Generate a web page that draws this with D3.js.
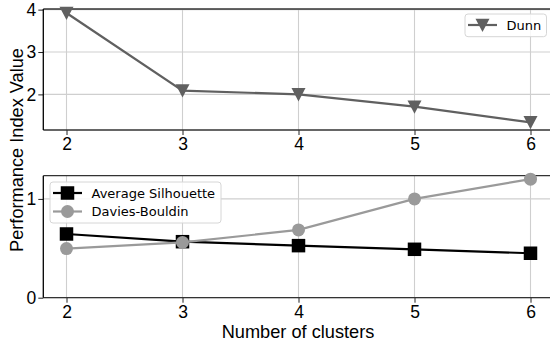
<!DOCTYPE html>
<html>
<head>
<meta charset="utf-8">
<script src="https://cdn.jsdelivr.net/npm/d3@7"></script>
<style>
  html, body { margin: 0; padding: 0; background: #fff; }
  svg { display: block; }
</style>
</head>
<body>
<svg id="chart" width="550" height="349"></svg>
<script>
// Cluster counts and performance indices
const clusters = [2, 3, 4, 5, 6];
const dunn = [3.92, 2.09, 2.0, 1.71, 1.34];
const silhouette = [0.645, 0.567, 0.527, 0.49, 0.45];
const daviesBouldin = [0.497, 0.56, 0.686, 1.0, 1.2];
const topTicks = [2, 3, 4];
const bottomTicks = [0, 1];

const svg = d3.select("#chart");
const tickFont = "'Liberation Sans', Arial, sans-serif";
const legendFont = "'DejaVu Sans', sans-serif";

const x = d3.scaleLinear().domain([1.8, 6.2]).range([43.3, 553.7]);
const yTop = d3.scaleLinear().domain([1.16, 4.015]).range([130, 9]);
const yBot = d3.scaleLinear().domain([0, 1.235]).range([297.7, 175.7]);

function panel(y, yTicks) {
  const g = svg.append("g");
  const [y0, y1] = y.range();
  // grid
  g.selectAll(".gx").data(clusters).join("line")
    .attr("x1", d => x(d)).attr("x2", d => x(d))
    .attr("y1", y0).attr("y2", y1)
    .attr("stroke", "#cfcfcf").attr("stroke-width", 1.1);
  g.selectAll(".gy").data(yTicks).join("line")
    .attr("x1", x.range()[0]).attr("x2", 550)
    .attr("y1", d => y(d)).attr("y2", d => y(d))
    .attr("stroke", "#cfcfcf").attr("stroke-width", 1.1);
  // axes
  const ax = g.append("g").attr("transform", `translate(0,${y0})`)
    .call(d3.axisBottom(x).tickValues(clusters).tickFormat(d3.format("d")).tickSize(5).tickPadding(3));
  const ay = g.append("g").attr("transform", `translate(${x.range()[0]},0)`)
    .call(d3.axisLeft(y).tickValues(yTicks).tickFormat(d3.format("d")).tickSize(5).tickPadding(2));
  [ax, ay].forEach(a => {
    a.selectAll("text").attr("font-family", tickFont).attr("font-size", 17.5).attr("fill", "#000");
    a.selectAll("line").attr("stroke", "#222");
    a.select(".domain").remove();
  });
  // spines
  g.append("line").attr("x1", x.range()[0]).attr("x2", 550).attr("y1", y0).attr("y2", y0)
    .attr("stroke", "#333").attr("stroke-width", 1.3);
  g.append("line").attr("x1", x.range()[0]).attr("x2", 550).attr("y1", y1).attr("y2", y1)
    .attr("stroke", "#333").attr("stroke-width", 1.3);
  g.append("line").attr("x1", x.range()[0]).attr("x2", x.range()[0]).attr("y1", y0).attr("y2", y1)
    .attr("stroke", "#000").attr("stroke-width", 1.3);
  return g;
}

function series(g, y, values, color, marker, size) {
  const line = d3.line().x((d, i) => x(clusters[i])).y(d => y(d));
  g.append("path").datum(values).attr("d", line)
    .attr("fill", "none").attr("stroke", color).attr("stroke-width", 2.2);
  g.selectAll(null).data(values).join("path")
    .attr("transform", (d, i) => `translate(${x(clusters[i])},${y(d)})`)
    .attr("d", marker(size)).attr("fill", color);
}

const tri = s => `M${-s/2},${-s*0.45}L${s/2},${-s*0.45}L0,${s*0.5}Z`;
const sq = s => `M${-s/2},${-s/2}h${s}v${s}h${-s}Z`;
const circ = s => d3.symbol(d3.symbolCircle, Math.PI * (s/2) * (s/2))();

const gTop = panel(yTop, topTicks);
series(gTop, yTop, dunn, "#606060", tri, 14);

const gBot = panel(yBot, bottomTicks);
series(gBot, yBot, silhouette, "#000000", sq, 13.5);
series(gBot, yBot, daviesBouldin, "#9a9a9a", circ, 13);

// legends
function legend(bx, by, w, h, items) {
  const g = svg.append("g");
  g.append("rect").attr("x", bx).attr("y", by).attr("width", w).attr("height", h)
    .attr("rx", 3).attr("fill", "rgba(255,255,255,0.85)").attr("stroke", "#d6d6d6");
  items.forEach((it, i) => {
    const cy = by + 11 + i * 18.5;
    g.append("line").attr("x1", bx + 3).attr("x2", bx + 32).attr("y1", cy).attr("y2", cy)
      .attr("stroke", it.color).attr("stroke-width", 2.2);
    g.append("path").attr("transform", `translate(${bx + 17.5},${cy})`)
      .attr("d", it.marker(it.size)).attr("fill", it.color);
    g.append("text").attr("x", bx + 41.5).attr("y", cy + 4.6)
      .attr("font-family", legendFont).attr("font-size", 13).attr("fill", "#000")
      .text(it.label);
  });
}
legend(465, 14, 81.5, 22.7, [{label: "Dunn", color: "#606060", marker: tri, size: 14}]);
legend(50, 182, 171, 41, [
  {label: "Average Silhouette", color: "#000000", marker: sq, size: 13.5},
  {label: "Davies-Bouldin", color: "#9a9a9a", marker: circ, size: 13}
]);

// axis titles
svg.append("text").attr("x", 298).attr("y", 338).attr("text-anchor", "middle")
  .attr("font-family", tickFont).attr("font-size", 18.2).text("Number of clusters");
svg.append("text").attr("transform", "translate(22.5,150) rotate(-90)").attr("text-anchor", "middle")
  .attr("font-family", tickFont).attr("font-size", 18.2).text("Performance Index Value");
</script>
</body>
</html>
